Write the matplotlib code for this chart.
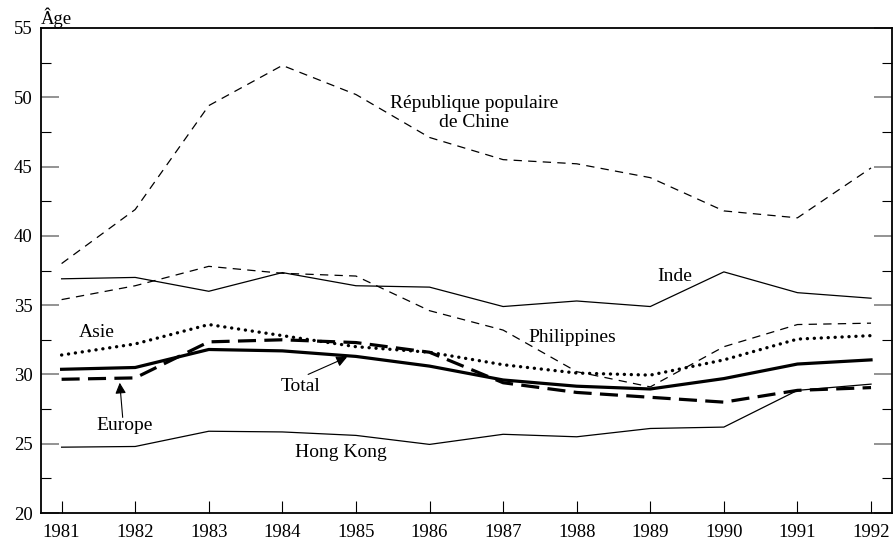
import matplotlib
matplotlib.use("Agg")
import matplotlib.pyplot as plt

plt.rcParams['font.family'] = ['Liberation Serif', 'DejaVu Serif']
plt.rcParams['lines.scale_dashes'] = False

years = [1981, 1982, 1983, 1984, 1985, 1986, 1987, 1988, 1989, 1990, 1991, 1992]
chine = [38.0, 41.9, 49.4, 52.3, 50.2, 47.1, 45.5, 45.2, 44.2, 41.8, 41.3, 44.9]
inde = [36.9, 37.0, 36.0, 37.35, 36.4, 36.3, 34.9, 35.3, 34.9, 37.4, 35.9, 35.5]
philippines = [35.4, 36.4, 37.8, 37.3, 37.1, 34.6, 33.2, 30.2, 29.1, 32.0, 33.6, 33.7]
asie = [31.4, 32.2, 33.6, 32.8, 32.0, 31.6, 30.7, 30.1, 29.95, 31.05, 32.55, 32.8]
total = [30.37, 30.5, 31.8, 31.7, 31.3, 30.6, 29.6, 29.15, 28.95, 29.7, 30.75, 31.05]
europe = [29.65, 29.75, 32.35, 32.5, 32.3, 31.6, 29.4, 28.7, 28.35, 28.0, 28.85, 29.05]
hongkong = [24.75, 24.8, 25.9, 25.85, 25.6, 24.95, 25.68, 25.5, 26.1, 26.2, 28.85, 29.3]

fig = plt.figure(figsize=(8.94, 5.42), dpi=100)
ax = fig.add_axes([41/894, 1-513/542, (892-41)/894, (513-28)/542])

thin = 0.9
ax.plot(years, chine, color='black', lw=thin, dashes=(6, 4.5))
ax.plot(years, inde, color='black', lw=thin)
ax.plot(years, philippines, color='black', lw=thin, dashes=(6, 4.5))
ax.plot(years, hongkong, color='black', lw=thin)
ax.plot(years, europe, color='black', lw=2.3, dashes=(13, 6))
ax.plot(years, asie, color='black', lw=2.4, dashes=(0.1, 4.9), dash_capstyle='round')
ax.plot(years, total, color='black', lw=2.3)

ax.set_xlim(1980.72, 1992.285)
ax.set_ylim(20, 55)
ax.set_xticks(years)
ax.set_xticklabels([str(y) for y in years])
ax.set_yticks([20, 25, 30, 35, 40, 45, 50, 55])
ax.set_yticks([22.5, 27.5, 32.5, 37.5, 42.5, 47.5, 52.5], minor=True)

tfs = 13.5
ax.tick_params(axis='x', direction='in', length=9, width=0.8, labelsize=tfs, pad=8, top=False)
ax.tick_params(axis='y', which='major', direction='in', length=13, width=1.2, color='#808080',
               labelsize=tfs, left=True, right=True, pad=6)
ax.tick_params(axis='y', which='minor', direction='in', length=7, width=0.8, color='black',
               left=True, right=True)
for s in ax.spines.values():
    s.set_linewidth(1.3)

ax.text(0.0, 1.0, 'Âge', transform=ax.transAxes, fontsize=tfs, ha='left', va='bottom')

fs = 14
ax.text(1986.6, 48.9, 'République populaire\nde Chine', fontsize=fs, ha='center', va='center',
        linespacing=1.15)
ax.text(1989.33, 37.05, 'Inde', fontsize=fs, ha='center', va='center')
ax.text(1987.35, 32.63, 'Philippines', fontsize=fs, ha='left', va='center')
ax.text(1981.48, 33.05, 'Asie', fontsize=fs, ha='center', va='center')
ax.text(1984.25, 29.1, 'Total', fontsize=fs, ha='center', va='center')
ax.text(1981.86, 26.35, 'Europe', fontsize=fs, ha='center', va='center')
ax.text(1984.8, 24.4, 'Hong Kong', fontsize=fs, ha='center', va='center')

ax.annotate('', xy=(1984.88, 31.25), xytext=(1984.35, 30.0),
            arrowprops=dict(arrowstyle='-|>', color='black', lw=0.8,
                            mutation_scale=16, shrinkA=0, shrinkB=0))
ax.annotate('', xy=(1981.79, 29.4), xytext=(1981.83, 26.9),
            arrowprops=dict(arrowstyle='-|>', color='black', lw=0.8,
                            mutation_scale=16, shrinkA=0, shrinkB=0))

fig.savefig('out.png', dpi=100)
